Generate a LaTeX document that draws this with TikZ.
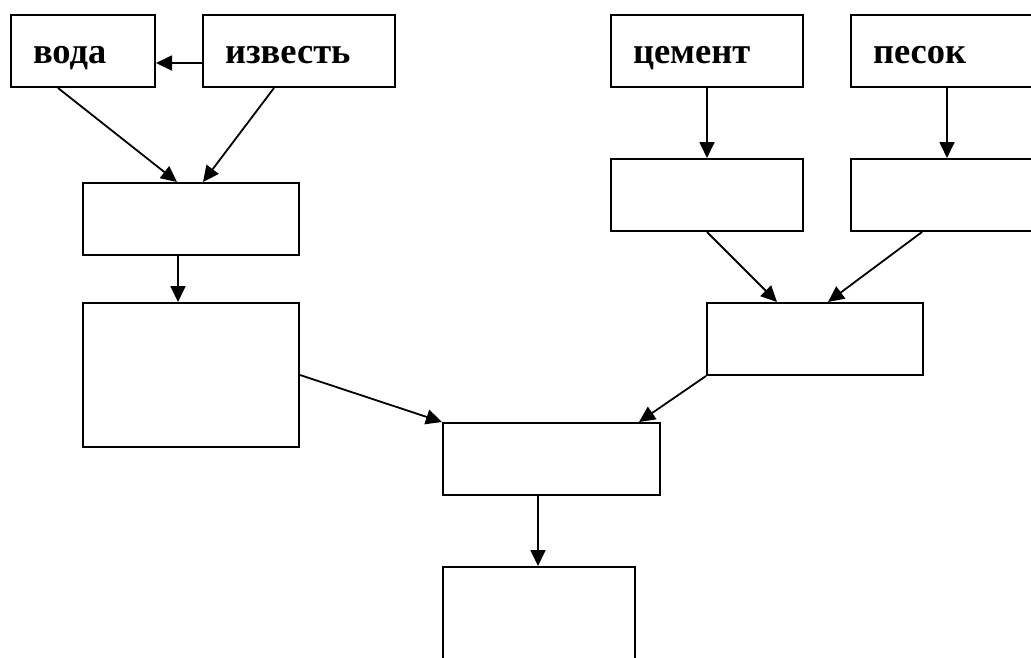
\documentclass[tikz,border=0pt]{standalone}
\usepackage{fontspec}
\setmainfont{Liberation Serif}
\usetikzlibrary{arrows.meta}
\begin{document}
\begin{tikzpicture}[x=1pt,y=-1pt,
  box/.style={draw=black,line width=2pt,rectangle,anchor=north west,minimum height=72pt,inner sep=0pt},
  lbl/.style={box,inner xsep=22pt,align=left,text height=24pt,text depth=0pt,
     font=\bfseries\fontsize{36.5}{40}\selectfont},
  conn/.style={line width=1.8pt,-{Triangle[length=16pt,width=15pt]}}]
\useasboundingbox (0,0) rectangle (1031,657);
\clip (0,0) rectangle (1031,657);
\fill[white] (0,0) rectangle (1031,657);
% top boxes
\node[lbl,minimum width=144pt,text width=100pt] (voda) at (10,14) {вода};
\node[lbl,minimum width=192pt,text width=148pt] (izvest) at (202,14) {известь};
\node[lbl,minimum width=192pt,text width=148pt] (cement) at (610,14) {цемент};
\node[lbl,minimum width=192pt,text width=148pt] (pesok) at (850,14) {песок};
% empty boxes
\node[box,minimum width=216pt] (L1) at (82,182) {};
\node[box,minimum width=216pt,minimum height=144pt] (L2) at (82,302) {};
\node[box,minimum width=192pt] (C1) at (610,158) {};
\node[box,minimum width=192pt] (P1) at (850,158) {};
\node[box,minimum width=216pt] (R) at (706,302) {};
\node[box,minimum width=217pt] (M) at (442,422) {};
\node[box,minimum width=192pt,minimum height=150pt] (B) at (442,566) {};
% connectors
\draw[conn] ([yshift=-12pt]izvest.west) -- ([yshift=-12pt]voda.east);
\draw[conn] ([xshift=48pt]voda.south west) -- ([xshift=95pt]L1.north west);
\draw[conn] ([xshift=72pt]izvest.south west) -- ([xshift=121pt]L1.north west);
\draw[conn] ([xshift=96pt]L1.south west) -- ([xshift=96pt]L2.north west);
\draw[conn] (cement.south) -- (C1.north);
\draw[conn] (pesok.south) -- (P1.north);
\draw[conn] (C1.south) -- ([xshift=71pt]R.north west);
\draw[conn] ([xshift=72pt]P1.south west) -- ([xshift=122pt]R.north west);
\draw[conn] (L2.east) -- (M.north west);
\draw[conn] (R.south west) -- ([xshift=-22pt]M.north east);
\draw[conn] ([xshift=96pt]M.south west) -- ([xshift=96pt]B.north west);
\end{tikzpicture}
\end{document}
